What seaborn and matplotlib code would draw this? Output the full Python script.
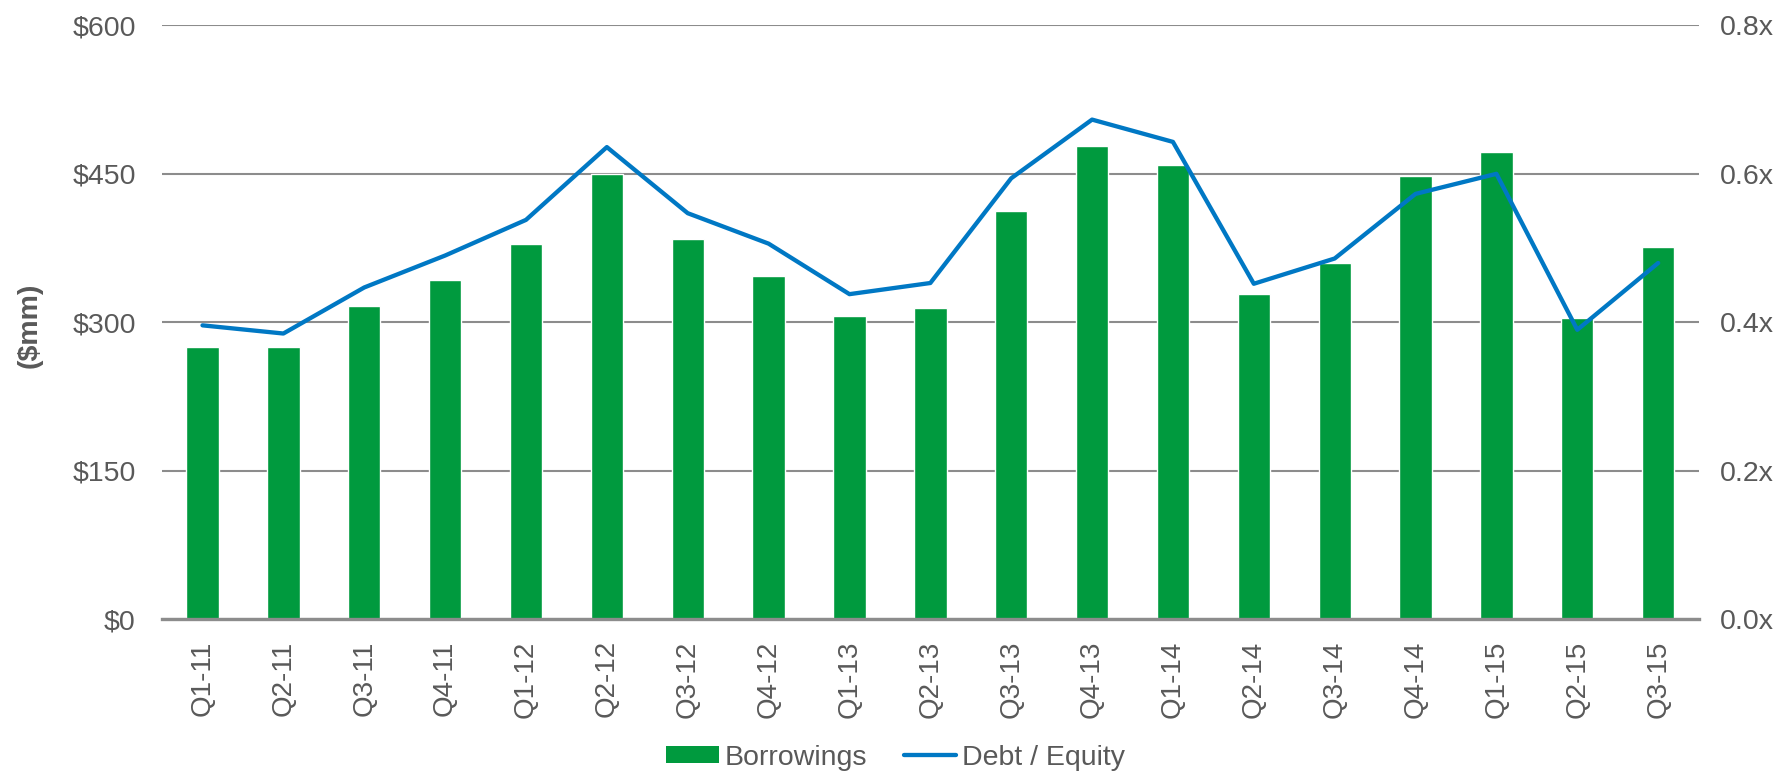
import matplotlib
matplotlib.use('Agg')
import matplotlib.pyplot as plt
import numpy as np
import pandas as pd
import seaborn as sns
from matplotlib.patches import Patch
from matplotlib.lines import Line2D

quarters = ['Q1-11', 'Q2-11', 'Q3-11', 'Q4-11', 'Q1-12', 'Q2-12', 'Q3-12', 'Q4-12',
            'Q1-13', 'Q2-13', 'Q3-13', 'Q4-13', 'Q1-14', 'Q2-14', 'Q3-14', 'Q4-14',
            'Q1-15', 'Q2-15', 'Q3-15']
borrowings = [275, 275, 317, 343, 379, 450, 384, 347, 306, 315, 412, 478, 459,
              329, 360, 448, 472, 304, 376]
debt_equity = [0.396, 0.385, 0.447, 0.490, 0.538, 0.636, 0.547, 0.506, 0.438, 0.453,
               0.594, 0.673, 0.643, 0.452, 0.486, 0.573, 0.600, 0.390, 0.480]
left_ticks = [0, 150, 300, 450, 600]
right_ticks = [0.0, 0.2, 0.4, 0.6, 0.8]

df = pd.DataFrame({'quarter': quarters, 'borrowings': borrowings, 'de': debt_equity})
df['pos'] = np.arange(len(df))

green = '#009a3e'
blue = '#0078c4'
grey_text = '#595959'
grid_col = '#8c8c8c'

sns.set_style('white')
plt.rcParams['font.family'] = ['Liberation Sans', 'DejaVu Sans']

fig = plt.figure(figsize=(17.79, 7.73), dpi=100)
ax = fig.add_axes([0.0911, 0.1986, 0.8637, 0.7687])

sns.barplot(x='quarter', y='borrowings', data=df, color=green, width=0.4,
            saturation=1, ax=ax, zorder=2)
ax.set_xlim(-0.5, len(df) - 0.5)
ax.set_ylim(0, 600)
ax.set_yticks(left_ticks)
ax.set_yticklabels(['$' + str(v) for v in left_ticks])
ax.set_axisbelow(True)
ax.yaxis.grid(True, color=grid_col, linewidth=1.5)
ax.xaxis.grid(False)
for s in ['top', 'right', 'left']:
    ax.spines[s].set_visible(False)
ax.spines['bottom'].set_color(grid_col)
ax.spines['bottom'].set_linewidth(2.4)
ax.spines['bottom'].set_zorder(3)
ax.tick_params(axis='y', length=0, pad=19, labelsize=20.5, labelcolor=grey_text)
ax.tick_params(axis='x', length=0, pad=15, labelsize=20, labelcolor=grey_text, rotation=90)
ax.set_xlabel('')
ax.set_ylabel('($mm)', fontsize=20.5, fontweight='bold', color=grey_text)
ax.yaxis.set_label_coords(-0.0777, 0.495)

ax2 = ax.twinx()
sns.lineplot(x='pos', y='de', data=df, color=blue, linewidth=3.1, ax=ax2)
ax2.set_ylim(0, 0.8)
ax2.set_yticks(right_ticks)
ax2.set_yticklabels([f'{v:.1f}x' for v in right_ticks])
ax2.tick_params(axis='y', length=0, pad=15, labelsize=20.5, labelcolor=grey_text)
ax2.set_ylabel('')
ax2.grid(False)
for s in ['top', 'right', 'left', 'bottom']:
    ax2.spines[s].set_visible(False)

handles = [Patch(facecolor=green, edgecolor='none'),
           Line2D([0], [0], color=blue, linewidth=3.1)]
fig.legend(handles, ['Borrowings', 'Debt / Equity'], loc='lower center',
           bbox_to_anchor=(0.5034, -0.03), ncol=2, frameon=False, fontsize=20.5,
           handlelength=1.85, handleheight=0.55, handletextpad=0.2,
           columnspacing=1.3, labelcolor=grey_text)

fig.savefig('out.png', dpi=100)
